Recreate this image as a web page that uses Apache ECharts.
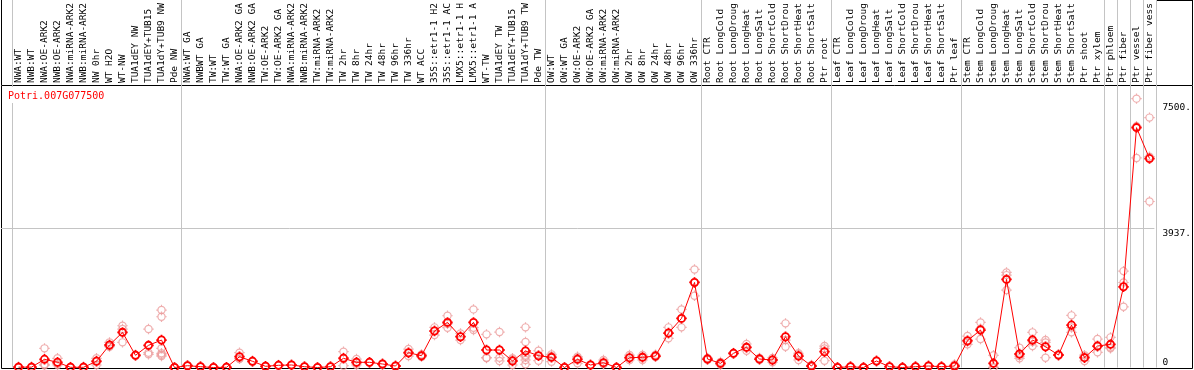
<!DOCTYPE html>
<html><head><meta charset="utf-8">
<script src="https://cdn.jsdelivr.net/npm/echarts@6/dist/echarts.min.js"></script>
<style>html,body{margin:0;padding:0;background:#fff}#c{width:1194px;height:370px}</style>
</head><body><div id="c"></div>
<script>
const geneId = 'Potri.007G077500';
const categories = [
 'NWA:WT','NWB:WT','NWA:OE-ARK2','NWB:OE-ARK2','NWA:miRNA-ARK2','NWB:miRNA-ARK2','NW 0hr','WT H2O','WT-NW','TUA1dEY NW','TUA1dEY+TUB15','TUA1dY+TUB9 NW','Pde NW',
 'NWA:WT GA','NWBWT GA','TW:WT','TW:WT GA','NWA:OE-ARK2 GA','NWB:OE-ARK2 GA','TW:OE-ARK2','TW:OE-ARK2 GA','NWA:miRNA-ARK2','NWB:miRNA-ARK2','TW:miRNA-ARK2','TW:miRNA-ARK2',
 'TW 2hr','TW 8hr','TW 24hr','TW 48hr','TW 96hr','TW 336hr','WT ACC','35S::etr1-1 H2','35S::etr1-1 AC','LMX5::etr1-1 H','LMX5::etr1-1 A','WT-TW','TUA1dEY TW','TUA1dEY+TUB15','TUA1dY+TUB9 TW','Pde TW',
 'OW:WT','OW:WT GA','OW:OE-ARK2','OW:OE-ARK2 GA','OW:miRNA-ARK2','OW:miRNA-ARK2','OW 2hr','OW 8hr','OW 24hr','OW 48hr','OW 96hr','OW 336hr',
 'Root CTR','Root LongCold','Root LongDroug','Root LongHeat','Root LongSalt','Root ShortCold','Root ShortDrou','Root ShortHeat','Root ShortSalt','Ptr root',
 'Leaf CTR','Leaf LongCold','Leaf LongDroug','Leaf LongHeat','Leaf LongSalt','Leaf ShortCold','Leaf ShortDrou','Leaf ShortHeat','Leaf ShortSalt','Ptr leaf',
 'Stem CTR','Stem LongCold','Stem LongDroug','Stem LongHeat','Stem LongSalt','Stem ShortCold','Stem ShortDrou','Stem ShortHeat','Stem ShortSalt','Ptr shoot','Ptr xylem',
 'Ptr phloem','Ptr fiber','Ptr vessel','Ptr fiber vess'
];
const means = [
 10,10,232,147,6,6,175,637,996,345,628,778,0,
 51,23,0,6,306,175,34,62,71,23,0,23,260,147,147,99,42,419,334,1033,1278,872,1278,495,495,184,467,334,
 288,0,232,71,137,0,278,288,325,976,1391,2409,
 240,118,402,571,240,212,872,325,42,447,
 0,23,0,184,23,0,23,42,23,42,
 759,1061,118,2495,382,778,589,354,1202,278,608,
 656,2286,6795,5918
];
const replicates = [
 [0,10,20],[0,15,20],[543,62,90],[260,71,110],[0,10,15],[0,10,20],[260,71,190],[713,608,590],[1183,1089,713],[330,350,360],[1089,373,420],[1627,1437,543,402,325,360],[0,0,5],
 [40,60,55],[15,30,25],[0,5,0],[0,10,8],[419,250,250],[175,160,190],[30,40,30],[50,70,65],[60,80,75],[15,30,25],[0,0,0],[15,30,25],
 [447,51,280],[240,71,130],[140,150,150],[80,110,105],[30,50,45],[523,325,410],[370,300,330],[1137,919,1043],[1466,1127,1240],[966,778,872],[1646,1061,1127],[939,278,270],[1004,278,184],[260,71,220],[1137,721,306,212,90,340],[475,193,334],
 [373,165,326],[0,0,5],[306,118,272],[60,80,73],[212,100,100],[0,0,0],[353,212,270],[353,212,300],[360,300,315],[1137,825,966],[1646,1137,1390],[2777,2031,2419],
 [270,220,230],[160,80,114],[402,390,414],[665,475,573],[270,220,230],[270,150,216],[1250,588,778],[360,212,403],[70,30,26],[608,193,540],
 [0,0,0],[15,30,24],[0,0,0],[175,190,187],[15,30,24],[0,0,0],[15,30,24],[30,50,46],[15,30,24],[84,20,22],
 [891,656,730],[1278,806,1099],[345,6,3],[2693,2192,2617],[561,260,325],[996,608,730],[778,278,711],[340,370,352],[1477,996,1133],[184,300,350],[806,430,588],
 [854,543,571],[2730,1720,2408],[7616,5935,6834],[7078,4702,5974]
];
const groupStarts = [0,13,41,53,63,73,84,85,86,87];
const yTickValues = [3937.5, 7500];
const yTickLabels = ['3937.', '7500.'];
const yZeroValue = 0;
const yZeroLabel = '0';

const repPoints = [];
replicates.forEach((arr, i) => arr.forEach(v => repPoints.push([i, v])));

const MONO = 'DejaVu Sans Mono';
const markPath = 'path://M-3.6,0A3.6,3.6,0,1,1,3.6,0A3.6,3.6,0,1,1,-3.6,0ZM0,-5.2L0,-3.6M0,3.6L0,5.2M-5.2,0L-3.6,0M3.6,0L5.2,0';
const splitInt = (idx) => groupStarts.indexOf(idx) >= 0;
const GRAY = '#c4c4c4';

const chart = echarts.init(document.getElementById('c'), null, {renderer: 'canvas'});
chart.setOption({
  animation: false,
  backgroundColor: '#fff',
  title: {
    text: geneId, left: 6, top: 87, padding: [4, 2, 2, 2],
    backgroundColor: '#fff',
    textStyle: {fontFamily: MONO, fontSize: 10, fontWeight: 'normal', color: '#ff0000'}
  },
  grid: [
    {left: 12, right: 38, top: 85, bottom: 2.5},
    {left: 12, right: 38, top: 0, height: 85},
    {left: 1, right: 38, top: 85, bottom: 2.5},
    {left: 1.5, right: 1.5, top: 85.5, bottom: 1.5, show: true, borderColor: '#000', borderWidth: 1, backgroundColor: 'transparent'}
  ],
  xAxis: [
    {gridIndex: 0, type: 'category', data: categories, position: 'top', boundaryGap: true,
     axisLine: {show: false}, axisTick: {show: false},
     axisLabel: {rotate: 90, interval: 0, margin: 2, fontFamily: MONO, fontSize: 9.5, color: '#000'},
     splitLine: {show: true, interval: splitInt, lineStyle: {color: GRAY, width: 1}}},
    {gridIndex: 1, type: 'category', data: categories, boundaryGap: true,
     axisLine: {show: false}, axisTick: {show: false}, axisLabel: {show: false},
     splitLine: {show: true, interval: splitInt, lineStyle: {color: GRAY, width: 1}}},
    {gridIndex: 2, type: 'value', show: false},
    {gridIndex: 3, type: 'value', show: false}
  ],
  yAxis: [
    {gridIndex: 0, type: 'value', min: 0, max: 8000, show: false},
    {gridIndex: 1, type: 'value', show: false},
    {gridIndex: 2, type: 'value', min: 0, max: 8000, interval: 3937.5, position: 'right',
     axisLine: {show: false}, axisTick: {show: false},
     axisLabel: {customValues: yTickValues, margin: 8, verticalAlign: 'top', fontFamily: MONO, fontSize: 9.5, color: '#000',
       formatter: (v) => { const k = yTickValues.indexOf(v); return k >= 0 ? yTickLabels[k] : ''; }},
     splitLine: {show: true, lineStyle: {color: ['rgba(0,0,0,0)', GRAY, 'rgba(0,0,0,0)'], width: 1}}},
    {gridIndex: 2, type: 'value', min: 0, max: 8000, position: 'right',
     axisLine: {show: false}, axisTick: {show: false}, splitLine: {show: false},
     axisLabel: {customValues: [yZeroValue], margin: 8, verticalAlign: 'bottom', fontFamily: MONO, fontSize: 9.5, color: '#000',
       formatter: () => yZeroLabel}},
    {gridIndex: 3, type: 'value', show: false}
  ],
  graphic: [
    {type: 'line', shape: {x1: 1.5, y1: 0, x2: 1.5, y2: 85}, style: {stroke: '#000', lineWidth: 1}, silent: true},
    {type: 'line', shape: {x1: 1192.5, y1: 0, x2: 1192.5, y2: 85}, style: {stroke: '#000', lineWidth: 1}, silent: true},
    {type: 'line', shape: {x1: 1156, y1: 0.5, x2: 1193, y2: 0.5}, style: {stroke: '#000', lineWidth: 1}, silent: true}
  ],
  series: [
    {type: 'scatter', xAxisIndex: 0, yAxisIndex: 0, data: repPoints, symbol: markPath, symbolSize: 10.4,
     itemStyle: {color: 'rgba(0,0,0,0)', borderColor: '#eb9a9a', borderWidth: 1.2}, z: 2, silent: true},
    {type: 'line', xAxisIndex: 0, yAxisIndex: 0, data: means, symbol: markPath, symbolSize: 10.4, showAllSymbol: true,
     lineStyle: {color: '#ff0000', width: 1},
     itemStyle: {color: 'rgba(0,0,0,0)', borderColor: '#ff0000', borderWidth: 1.8}, z: 3, silent: true}
  ]
});
</script></body></html>
